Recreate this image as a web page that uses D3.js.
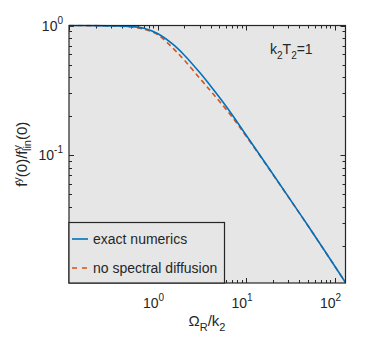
<!DOCTYPE html>
<html>
<head>
<meta charset="utf-8">
<script src="https://cdn.jsdelivr.net/npm/d3@7"></script>
<style>
  body { margin: 0; background: #fff; }
  text { font-family: "Liberation Sans", Arial, Helvetica, sans-serif; fill: #262626; }
</style>
</head>
<body>
<svg id="chart" width="382" height="340"></svg>
<script>
// ---- data ----
const omegaR = [0.1, 0.2, 0.3, 0.5, 0.7, 1.0, 1.5, 2, 3, 4, 5, 7, 10, 20, 50, 133];
const exactNumerics = [1.0, 0.998, 0.994, 0.982, 0.952, 0.867, 0.714, 0.592, 0.433, 0.340, 0.279, 0.204, 0.143, 0.0718, 0.0286, 0.0104];
const noSpectralDiffusion = [1.0, 0.997, 0.991, 0.974, 0.937, 0.85, 0.666, 0.542, 0.392, 0.311, 0.26, 0.196, 0.1405, 0.0713, 0.0285, 0.0104];
const xMajorTicks = [1, 10, 100];
const xMajorLabels = ["0", "1", "2"];
const yMajorTicks = [0.1, 1];
const yMajorLabels = ["-1", "0"];
const xDomain = [0.1, 133];
const yDomain = [0.0103, 1];
const seriesNames = ["exact numerics", "no spectral diffusion"];
const seriesColors = ["#0072BD", "#D95319"];

// ---- layout ----
const L = 69, R = 345.5, T = 25.5, B = 283;
const svg = d3.select("#chart");
const x = d3.scaleLog().domain(xDomain).range([L, R]);
const y = d3.scaleLog().domain(yDomain).range([B, T]);

svg.append("rect").attr("x", L).attr("y", T).attr("width", R - L).attr("height", B - T)
  .attr("fill", "#e6e6e6");

// minor/major ticks
function minorTicks(domain) {
  const out = [];
  for (let e = Math.floor(Math.log10(domain[0])); e <= Math.ceil(Math.log10(domain[1])); e++) {
    for (let m = 1; m <= 9; m++) {
      const v = m * Math.pow(10, e);
      if (v >= domain[0] * 0.999 && v <= domain[1] * 1.001) out.push({v, major: m === 1});
    }
  }
  return out;
}
const tickG = svg.append("g").attr("stroke", "#262626").attr("stroke-width", 1);
minorTicks(xDomain).forEach(t => {
  const px = Math.round(x(t.v)) + 0.5;
  const len = t.major ? 5 : 3;
  tickG.append("line").attr("x1", px).attr("x2", px).attr("y1", B).attr("y2", B - len);
  tickG.append("line").attr("x1", px).attr("x2", px).attr("y1", T).attr("y2", T + len);
});
minorTicks(yDomain).forEach(t => {
  const py = Math.round(y(t.v)) + 0.5;
  const len = t.major ? 5 : 3;
  tickG.append("line").attr("x1", L).attr("x2", L + len).attr("y1", py).attr("y2", py);
  tickG.append("line").attr("x1", R).attr("x2", R - len).attr("y1", py).attr("y2", py);
});

// curves
const line = d3.line().x(d => x(d[0])).y(d => y(d[1])).curve(d3.curveCatmullRom.alpha(0.5));
svg.append("clipPath").attr("id", "clip").append("rect")
  .attr("x", L).attr("y", T - 1).attr("width", R - L + 1).attr("height", B - T + 2);
svg.append("path").datum(omegaR.map((v, i) => [v, noSpectralDiffusion[i]]))
  .attr("d", line).attr("fill", "none").attr("stroke", seriesColors[1])
  .attr("stroke-width", 1.6).attr("stroke-dasharray", "5,3.5").attr("clip-path", "url(#clip)");
svg.append("path").datum(omegaR.map((v, i) => [v, exactNumerics[i]]))
  .attr("d", line).attr("fill", "none").attr("stroke", seriesColors[0])
  .attr("stroke-width", 1.6).attr("clip-path", "url(#clip)");

// frame
svg.append("rect").attr("x", L).attr("y", T).attr("width", R - L).attr("height", B - T)
  .attr("fill", "none").attr("stroke", "#262626").attr("stroke-width", 1.2);

// tick labels
xMajorTicks.forEach((v, i) => {
  const t = svg.append("text").attr("x", x(v) - 4).attr("y", B + 25).attr("text-anchor", "middle")
    .style("font-size", "14px");
  t.append("tspan").text("10");
  t.append("tspan").attr("dy", -7).style("font-size", "10px").text(xMajorLabels[i]);
});
yMajorTicks.forEach((v, i) => {
  const t = svg.append("text").attr("x", L - 6).attr("y", y(v) + 5).attr("text-anchor", "end")
    .style("font-size", "14px");
  t.append("tspan").text("10");
  t.append("tspan").attr("dy", -7).style("font-size", "10px").text(yMajorLabels[i]);
});

// annotation k2T2=1
const ann = svg.append("text").attr("x", 270).attr("y", 54).style("font-size", "14px");
ann.append("tspan").text("k");
ann.append("tspan").attr("dy", 5).style("font-size", "10px").text("2");
ann.append("tspan").attr("dy", -5).text("T");
ann.append("tspan").attr("dy", 5).style("font-size", "10px").text("2");
ann.append("tspan").attr("dy", -5).text("=1");

// x label
const xl = svg.append("text").attr("x", 207).attr("y", 326).attr("text-anchor", "middle")
  .style("font-size", "15px");
xl.append("tspan").text("Ω");
xl.append("tspan").attr("dy", 5).style("font-size", "11px").text("R");
xl.append("tspan").attr("dy", -5).text("/k");
xl.append("tspan").attr("dy", 5).style("font-size", "11px").text("2");

// y label
const yl = svg.append("text").attr("transform", `translate(27,${(T + B) / 2}) rotate(-90)`)
  .attr("text-anchor", "middle").style("font-size", "15px");
yl.append("tspan").text("f");
yl.append("tspan").attr("dy", -6).style("font-size", "11px").text("y");
yl.append("tspan").attr("dy", 6).text("(0)/f");
yl.append("tspan").attr("dy", -6).style("font-size", "11px").text("y");
yl.append("tspan").attr("dx", -6).attr("dy", 10).style("font-size", "11px").text("lin");
yl.append("tspan").attr("dy", -4).text("(0)");

// legend
const lg = svg.append("g");
lg.append("rect").attr("x", L).attr("y", 222.5).attr("width", 155.5).attr("height", B - 222.5)
  .attr("fill", "#e6e6e6").attr("stroke", "#262626").attr("stroke-width", 1.2);
[239, 268].forEach((ly, i) => {
  lg.append("line").attr("x1", 72).attr("x2", 88).attr("y1", ly).attr("y2", ly)
    .attr("stroke", seriesColors[i]).attr("stroke-width", 1.6)
    .attr("stroke-dasharray", i === 1 ? "5,5" : null);
  lg.append("text").attr("x", 93).attr("y", ly + 5).style("font-size", "14px").text(seriesNames[i]);
});
</script>
</body>
</html>
